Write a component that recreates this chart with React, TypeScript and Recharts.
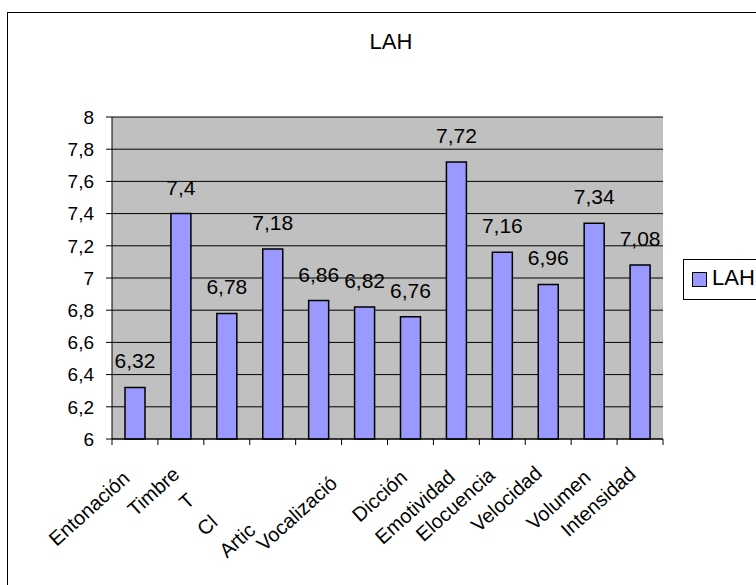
import React from 'react'
import {
  BarChart,
  Bar,
  XAxis,
  YAxis,
  CartesianGrid,
  LabelList
} from 'recharts'

const categories = [
  'Entonación',
  'Timbre',
  'T',
  'Cl',
  'Artic',
  'Vocalizació',
  'Dicción',
  'Emotividad',
  'Elocuencia',
  'Velocidad',
  'Volumen',
  'Intensidad'
]
const lahValues = [6.32, 7.4, 6.78, 7.18, 6.86, 6.82, 6.76, 7.72, 7.16, 6.96, 7.34, 7.08]
const yTicks = [6, 6.2, 6.4, 6.6, 6.8, 7, 7.2, 7.4, 7.6, 7.8, 8]

const data = categories.map((name, i) => ({ name, LAH: lahValues[i] }))

const FONT = '"Liberation Sans", Arial, sans-serif'
const BAR_FILL = '#9999FF'
const PLOT_BG = '#C0C0C0'
const PLOT_W = 551

// label anchor shifts [dx, dy] from the category centre; a few labels sit out of line
const LABEL_SHIFT: [number, number][] = [
  [-4, 41],
  [0, 37],
  [-31, 63],
  [-54, 85],
  [-62, 93],
  [-26, 46],
  [-2, 40],
  [0, 40],
  [-6, 38],
  [-5, 36],
  [-2, 40],
  [-3, 37]
]

const comma = (v: number) => String(v).replace('.', ',')

const CategoryTick = (props: any) => {
  const { x, y, payload, index } = props
  const i = index ?? payload?.index ?? 0
  const half = payload?.offset ? payload.offset : PLOT_W / categories.length / 2
  const [dx, dy] = LABEL_SHIFT[i] ?? [0, 38]
  return (
    <g>
      <line x1={x - half} x2={x - half} y1={y} y2={y + 6} stroke="#000" />
      {i === categories.length - 1 && (
        <line x1={x + half} x2={x + half} y1={y} y2={y + 6} stroke="#000" />
      )}
      <text
        transform={`translate(${x + dx},${y + dy}) rotate(-42)`}
        textAnchor="end"
        fontSize={20}
        fontFamily={FONT}
        fill="#000"
      >
        {payload.value}
      </text>
    </g>
  )
}

const ValueLabel = (props: any) => {
  const { x, y, width, value } = props
  return (
    <text
      x={x + width / 2}
      y={y - 19}
      textAnchor="middle"
      fontSize={21}
      fontFamily={FONT}
      fill="#000"
    >
      {comma(value)}
    </text>
  )
}

export default function App() {
  return (
    <div
      style={{
        position: 'fixed',
        left: 0,
        top: 0,
        width: 756,
        height: 585,
        overflow: 'hidden',
        background: '#fff',
        fontFamily: FONT
      }}
    >
      {/* chart frame, runs past the right and bottom edges */}
      <div
        style={{
          position: 'absolute',
          left: 7,
          top: 12,
          width: 800,
          height: 640,
          border: '1px solid #000'
        }}
      />

      <div
        style={{
          position: 'absolute',
          left: 291,
          top: 31,
          width: 200,
          textAlign: 'center',
          fontSize: 22,
          lineHeight: 1,
          color: '#000'
        }}
      >
        LAH
      </div>

      <div style={{ position: 'absolute', left: 0, top: 0 }}>
        <BarChart
          width={756}
          height={585}
          data={data}
          margin={{ top: 117, right: 93, bottom: 46, left: 0 }}
          barSize={20}
        >
          <CartesianGrid
            vertical={false}
            stroke="#000"
            strokeOpacity={1}
            fill={PLOT_BG}
            fillOpacity={1}
          />
          <XAxis
            dataKey="name"
            interval={0}
            height={100}
            tickSize={0}
            tickMargin={0}
            tickLine={false}
            axisLine={{ stroke: '#000' }}
            tick={(p: any) => <CategoryTick {...p} />}
          />
          <YAxis
            domain={[6, 8]}
            ticks={yTicks}
            interval={0}
            width={112}
            tickSize={6}
            tickMargin={12}
            tickFormatter={comma}
            axisLine={{ stroke: '#000' }}
            tickLine={{ stroke: '#000' }}
            tick={{ fontSize: 19, fill: '#000', fontFamily: FONT }}
          />
          <YAxis
            yAxisId="edge"
            orientation="right"
            domain={[6, 8]}
            width={0}
            tick={false}
            tickLine={false}
            axisLine={{ stroke: '#000' }}
          />
          <Bar
            dataKey="LAH"
            fill={BAR_FILL}
            stroke="#000"
            strokeWidth={1.5}
            isAnimationActive={false}
          >
            <LabelList dataKey="LAH" content={<ValueLabel />} />
          </Bar>
        </BarChart>
      </div>

      {/* legend */}
      <div
        style={{
          position: 'absolute',
          left: 683,
          top: 259,
          width: 90,
          height: 39,
          border: '1px solid #000',
          background: '#fff'
        }}
      >
        <div
          style={{
            position: 'absolute',
            left: 8,
            top: 12,
            width: 13,
            height: 13,
            background: BAR_FILL,
            border: '1.5px solid #000'
          }}
        />
        <div
          style={{
            position: 'absolute',
            left: 28,
            top: 7,
            fontSize: 22,
            lineHeight: 1,
            color: '#000'
          }}
        >
          LAH
        </div>
      </div>
    </div>
  )
}
